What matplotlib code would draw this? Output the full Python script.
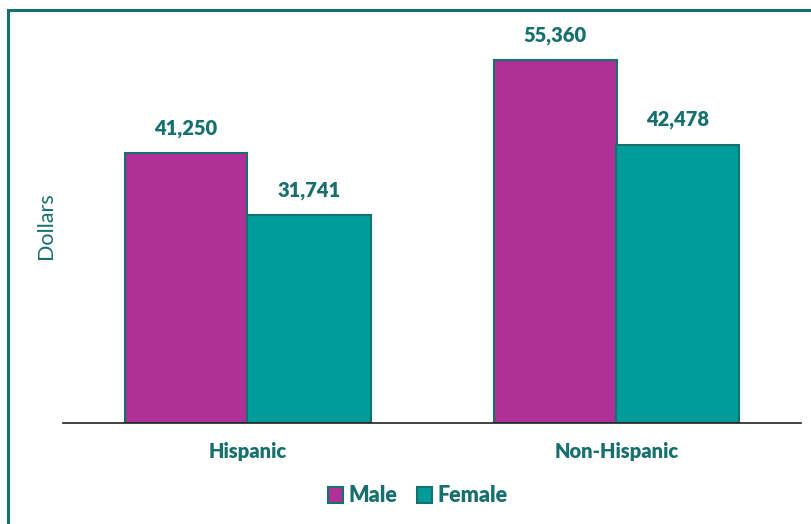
import matplotlib
matplotlib.use("Agg")
import matplotlib.pyplot as plt
import numpy as np
from matplotlib.patches import Rectangle

# data
categories = ["Hispanic", "Non-Hispanic"]
male = [41250, 55360]
female = [31741, 42478]
series_names = ["Male", "Female"]

TEAL_TXT = "#17706e"
MALE_C = "#b03098"
FEMALE_C = "#009b9b"
EDGE = "#16706c"

plt.rcParams["font.family"] = ["Lato", "DejaVu Sans"]

fig = plt.figure(figsize=(8.12, 5.24), dpi=100)
ax = fig.add_axes([63 / 812, 101 / 524, 738 / 812, 393 / 524])

x = np.arange(len(categories))
w = 1 / 3
b1 = ax.bar(x - w / 2, male, w, color=MALE_C, edgecolor=EDGE, linewidth=1.5, label=series_names[0])
b2 = ax.bar(x + w / 2, female, w, color=FEMALE_C, edgecolor=EDGE, linewidth=1.5, label=series_names[1])

for bars in (b1, b2):
    for r in bars:
        ax.annotate(f"{int(r.get_height()):,}", (r.get_x() + r.get_width() / 2, r.get_height()),
                    xytext=(0, 11), textcoords="offset points", ha="center", va="bottom",
                    fontsize=14.5, fontweight="heavy", color=TEAL_TXT)

ax.set_xlim(-0.5, 1.5)
ax.set_ylim(0, 60000)
ax.set_yticks([])
ax.set_xticks(x)
ax.set_xticklabels(categories, fontsize=14.5, fontweight="heavy", color=TEAL_TXT)
ax.tick_params(axis="x", length=0, pad=14)
for s in ["top", "right", "left"]:
    ax.spines[s].set_visible(False)
ax.spines["bottom"].set_color("#222222")
ax.spines["bottom"].set_linewidth(1.2)

fig.text(46 / 812, 1 - 226 / 524, "Dollars", rotation=90, ha="center", va="center",
         fontsize=15.5, color=TEAL_TXT)

leg = fig.legend(loc="center", bbox_to_anchor=(418 / 812, 1 - 496 / 524), ncol=2, frameon=False,
                 fontsize=15.5, handlelength=0.7, handleheight=0.7, handletextpad=0.25,
                 columnspacing=0.9)
for t in leg.get_texts():
    t.set_color(TEAL_TXT)
    t.set_fontweight("heavy")

# outer frame (partly cropped)
fig.patches.append(Rectangle((8 / 812, -0.1), 1.0, 1 - 10 / 524 + 0.1, transform=fig.transFigure,
                             fill=False, edgecolor="#17706e", linewidth=2.2))

fig.savefig("out.png", dpi=100)
